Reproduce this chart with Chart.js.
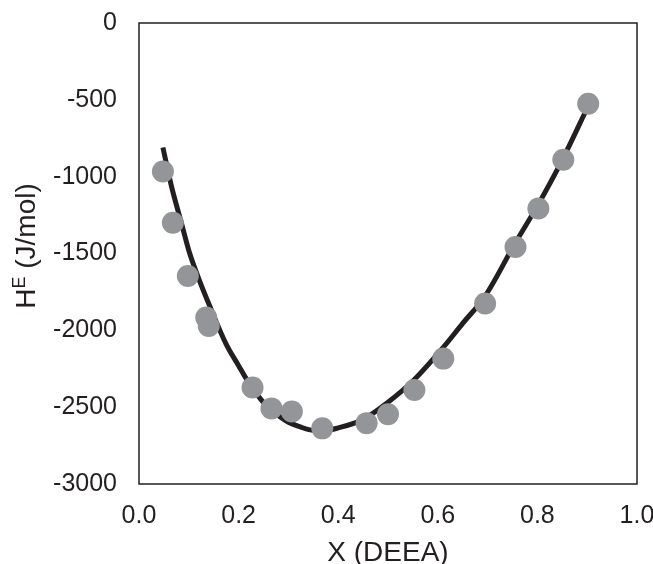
<!DOCTYPE html>
<html>
<head>
<meta charset="utf-8">
<script src="https://cdn.jsdelivr.net/npm/chart.js@4"></script>
<style>
  html, body { margin: 0; padding: 0; background: #fff; }
  #wrap { width: 653px; height: 564px; }
</style>
</head>
<body>
<div id="wrap"><canvas id="heChart"></canvas></div>
<script>
// measured excess enthalpy (grey dots)
const xMeasured = [0.048, 0.068, 0.098, 0.135, 0.140, 0.228, 0.266, 0.307, 0.368,
                   0.457, 0.500, 0.553, 0.611, 0.695, 0.756, 0.802, 0.852, 0.902];
const hMeasured = [-966, -1300, -1647, -1917, -1972, -2372, -2508, -2528, -2638,
                   -2604, -2546, -2388, -2184, -1825, -1458, -1207, -890, -526];

// fitted curve (black line)
const xFit = [0.048, 0.065, 0.085, 0.10, 0.118, 0.142, 0.175, 0.20, 0.216, 0.25, 0.296, 0.325,
              0.35, 0.375, 0.40, 0.45, 0.50, 0.55, 0.611, 0.65, 0.695, 0.756, 0.80, 0.85, 0.902];
const hFit = [-810, -1060, -1300, -1480, -1647, -1842, -2090, -2230, -2318, -2470, -2590, -2630,
              -2650, -2650, -2635, -2580, -2468, -2330, -2111, -1955, -1777, -1429, -1190, -890, -540];

const xTicks = [0, 0.2, 0.4, 0.6, 0.8, 1.0];
const yTicks = [0, -500, -1000, -1500, -2000, -2500, -3000];

const FONT = "'Liberation Sans', Arial, Helvetica, sans-serif";
const INK = '#231f20';

// frame around the plot + y title with superscript E
const framePlugin = {
  id: 'frame',
  afterDraw(chart) {
    const { ctx, chartArea: a } = chart;
    ctx.save();
    ctx.strokeStyle = INK;
    ctx.lineWidth = 1.5;
    ctx.strokeRect(a.left, a.top, a.right - a.left, a.bottom - a.top);

    // y title
    ctx.translate(27, 246);
    ctx.rotate(-Math.PI / 2);
    ctx.fillStyle = INK;
    ctx.textBaseline = 'middle';
    const big = '28px ' + FONT, small = '18px ' + FONT;
    ctx.font = big;
    const wH = ctx.measureText('H').width;
    const wRest = ctx.measureText(' (J/mol)').width;
    ctx.font = small;
    const wE = ctx.measureText('E').width;
    let x = -(wH + wE + wRest) / 2;
    ctx.font = big;
    ctx.textAlign = 'left';
    ctx.fillText('H', x, 0);
    x += wH;
    ctx.font = small;
    ctx.fillText('E', x, -7);
    x += wE;
    ctx.font = big;
    ctx.fillText(' (J/mol)', x, 0);
    ctx.restore();
  }
};

const ctx = document.getElementById('heChart').getContext('2d');
new Chart(ctx, {
  type: 'scatter',
  data: {
    datasets: [
      {
        label: 'measured',
        data: xMeasured.map((x, i) => ({ x: x, y: hMeasured[i] })),
        backgroundColor: '#939598',
        borderWidth: 0,
        pointRadius: 11,
        pointHoverRadius: 11,
        order: 0
      },
      {
        label: 'fit',
        data: xFit.map((x, i) => ({ x: x, y: hFit[i] })),
        showLine: true,
        borderColor: INK,
        borderWidth: 5,
        pointRadius: 0,
        cubicInterpolationMode: 'monotone',
        order: 1
      }
    ]
  },
  options: {
    responsive: true,
    maintainAspectRatio: false,
    animation: false,
    layout: { padding: 0 },
    plugins: {
      legend: { display: false },
      tooltip: { enabled: false }
    },
    scales: {
      x: {
        type: 'linear',
        min: 0,
        max: 1,
        afterBuildTicks: s => { s.ticks = xTicks.map(v => ({ value: v })); },
        afterFit: s => { s.height = 80; s.paddingLeft = 0; s.paddingRight = 16; },
        grid: { display: false, drawTicks: false },
        border: { display: false },
        ticks: {
          padding: 17,
          color: INK,
          font: { family: FONT, size: 25 },
          callback: v => Number(v).toFixed(1)
        },
        title: {
          display: true,
          text: 'X (DEEA)',
          color: INK,
          font: { family: FONT, size: 28 },
          padding: { top: 0, bottom: -6 }
        }
      },
      y: {
        min: -3000,
        max: 0,
        afterBuildTicks: s => { s.ticks = yTicks.map(v => ({ value: v })); },
        afterFit: s => { s.width = 139; s.paddingTop = 23; s.paddingBottom = 0; },
        grid: { display: false, drawTicks: false },
        border: { display: false },
        ticks: {
          padding: 22,
          color: INK,
          font: { family: FONT, size: 25 },
          callback: v => String(v)
        }
      }
    }
  },
  plugins: [framePlugin]
});
</script>
</body>
</html>
